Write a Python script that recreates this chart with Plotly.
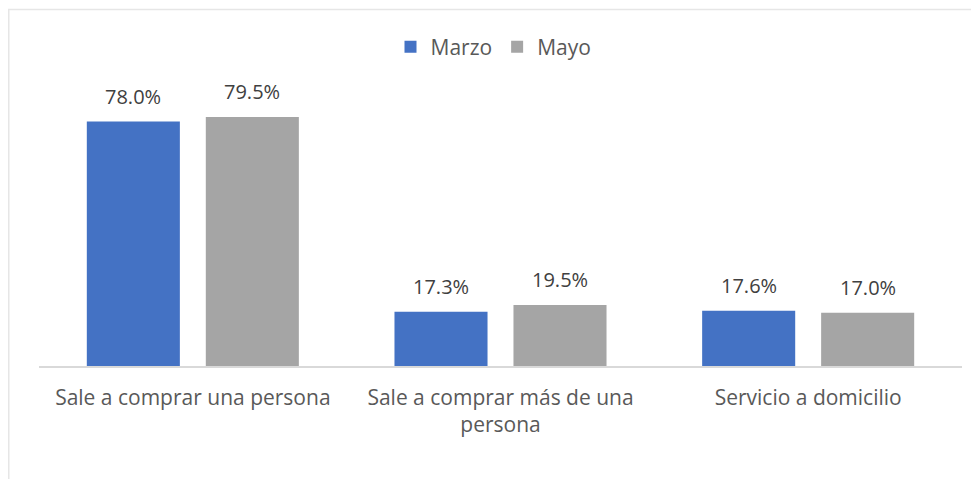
import plotly.graph_objects as go

categories = ["Sale a comprar una persona", "Sale a comprar más de una<br>persona", "Servicio a domicilio"]
series_names = ["Marzo", "Mayo"]
marzo = [78.0, 17.3, 17.6]
mayo = [79.5, 19.5, 17.0]
colors = ["#4472C4", "#A5A5A5"]

# page body adds an 8px offset, so the figure is 8px smaller than the window
W, H = 971, 471
ml, mr, mt, mb = 31, 17, 76, 113
plot_h = H - mt - mb
pw = W - ml - mr
ymax = 90
bargap = 0.2265

fig = go.Figure()
for name, vals, col in zip(series_names, [marzo, mayo], colors):
    fig.add_trace(go.Bar(x=categories, y=vals, name=name, marker=dict(color=col, line=dict(width=0)),
                         hoverinfo="skip"))

# data labels
slot = pw / 3 * (1 - bargap) / 2
for i, vals in enumerate([marzo, mayo]):
    for c, v in zip(categories, vals):
        fig.add_annotation(x=c, y=v, xref="x", yref="y", text=f"{v:.1f}%", showarrow=False,
                           xshift=(i - 0.5) * slot, yanchor="bottom", yshift=10,
                           font=dict(family="Open Sans", size=20, color="#404040"))

# border (cropped at right/bottom)
fig.add_shape(type="rect", xref="paper", yref="paper",
              x0=(0.75 - ml) / pw, x1=(W + 20 - ml) / pw,
              y0=-(H + 20 - (H - mb)) / plot_h, y1=((H - mb) - 1.5) / plot_h,
              line=dict(color="#E6E6E6", width=1.5), fillcolor="rgba(0,0,0,0)", layer="below")

fig.update_layout(
    width=W, height=H,
    margin=dict(l=ml, r=mr, t=mt, b=mb),
    paper_bgcolor="white", plot_bgcolor="white",
    barmode="group", bargap=bargap, bargroupgap=0.218,
    font=dict(family="Open Sans", size=20, color="#595959"),
    legend=dict(orientation="h", xref="container", yref="container", x=0.5, xanchor="center",
                y=1 - 39 / H, yanchor="middle", font=dict(size=21, color="#595959"),
                itemwidth=30, tracegroupgap=0),
    xaxis=dict(showline=True, linecolor="#D9D9D9", linewidth=1.5, ticks="", showgrid=False,
               tickfont=dict(size=21, color="#595959"), ticklabelstandoff=12),
    yaxis=dict(range=[0, ymax], visible=False, showgrid=False, zeroline=False),
)

fig.write_html("out.html")
